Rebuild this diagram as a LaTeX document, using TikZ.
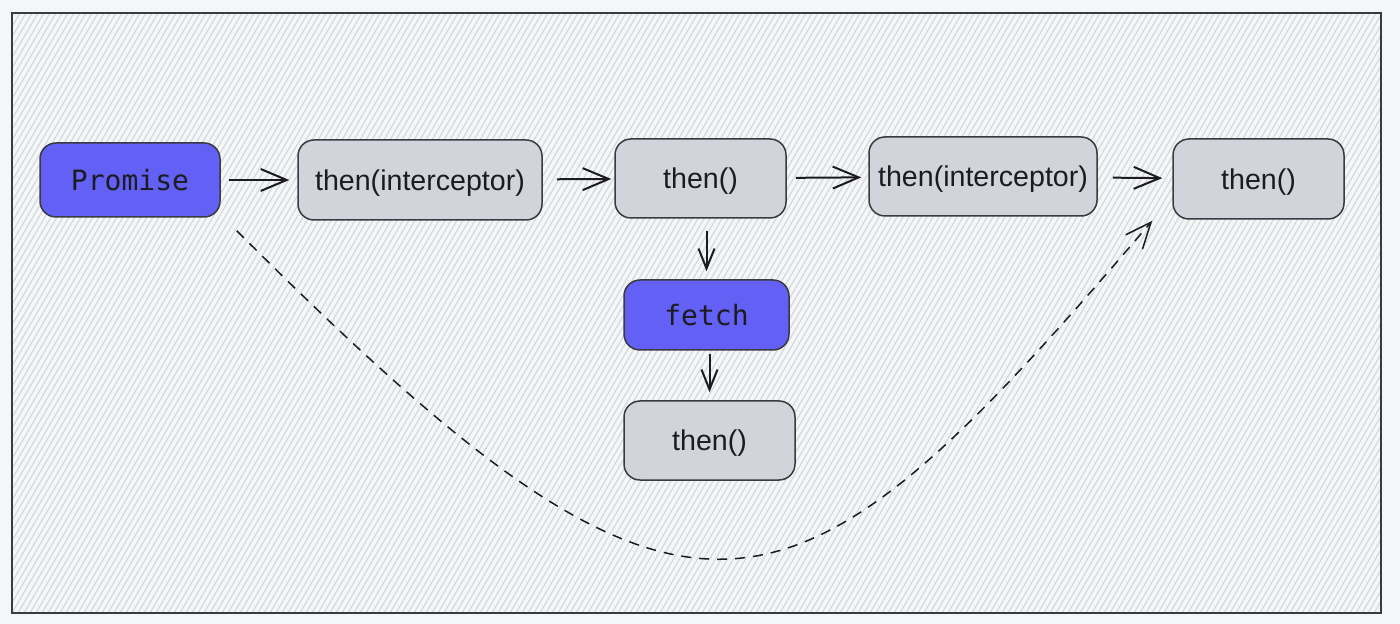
\documentclass[tikz,border=0pt]{standalone}
\usepackage{fontspec}
\setmainfont{Liberation Sans}
\newfontfamily\codefont{DejaVu Sans Mono}
\usetikzlibrary{arrows.meta}
\definecolor{promiseblue}{HTML}{6260F5}
\definecolor{thengray}{HTML}{D1D4DA}
\definecolor{edgegray}{HTML}{3A3A40}
\definecolor{paper}{HTML}{F4F7F9}
\definecolor{hatchbase}{HTML}{F4F6F8}
\definecolor{hatchline}{HTML}{D3D6DA}
\definecolor{ink}{HTML}{1C1C20}
\tikzset{
  box/.style={shape=rectangle,rounded corners=8pt,draw=edgegray,line width=0.75pt,inner sep=0pt,text depth=0pt,text=ink,font=\fontsize{14.3}{17}\selectfont},
  thenbox/.style={box,fill=thengray},
  codebox/.style={box,fill=promiseblue,font=\codefont\fontsize{14}{17}\selectfont},
  flow/.style={line width=1pt,draw=ink,-{Straight Barb[length=13pt,width=11pt]}},
  down/.style={line width=1pt,draw=ink,-{Straight Barb[length=10pt,width=8pt]}},
}

\begin{document}
\begin{tikzpicture}[x=0.5pt,y=-0.5pt]
\useasboundingbox (0,0) rectangle (1400,624);
\fill[paper] (0,0) rectangle (1400,624);
\fill[hatchbase] (12,13) rectangle (1381,613);
\begin{scope}
\clip (12,13) rectangle (1381,613);
\foreach \i in {-360,-354,...,1386}
  \draw[hatchline,line width=0.55pt] (\i,613) -- ++(350,-600);
\end{scope}
\draw[edgegray,line width=1pt] (12,13) rectangle (1381,613);

\node[codebox,minimum width=90pt,minimum height=37pt] (1) at (130,180) {Promise};
\node[thenbox,minimum width=122pt,minimum height=40pt] (2) at (420,180) {then(interceptor)};
\node[thenbox,minimum width=85.5pt,minimum height=39.5pt] (3) at (700.5,178.5) {then()};
\node[thenbox,minimum width=114pt,minimum height=39.5pt] (4) at (983,176.5) {then(interceptor)};
\node[thenbox,minimum width=85.5pt,minimum height=40pt] (5) at (1258.5,179) {then()};
\node[codebox,minimum width=82.5pt,minimum height=35pt] (6) at (706.5,315) {fetch};
\node[thenbox,minimum width=85.5pt,minimum height=39.5pt] (7) at (709.5,440.5) {then()};

\draw[flow,shorten <=4pt,shorten >=4pt] (1) -- (2);
\draw[flow,shorten <=7pt,shorten >=1.5pt] (2) -- (3);
\draw[flow,shorten <=4.5pt,shorten >=3.5pt] (3) -- (4);
\draw[flow,shorten <=7.5pt,shorten >=5pt] (4) -- (5);
\draw[down,shorten <=6pt,shorten >=4pt] (3.south -| 6.north) -- (6.north);
\draw[down,shorten <=1.5pt,shorten >=4pt] (6.south -| 7.north) -- (7.north);

\coordinate (s) at ([xshift=8pt,yshift=-6.5pt]1.south east);
\coordinate (e) at ([xshift=-10pt,yshift=-0.5pt]5.south west);
\draw[flow,dashed,dash pattern=on 5pt off 4pt,line width=0.75pt] (s) .. controls +(460,460) and +(-366,428) .. (e);
\end{tikzpicture}
\end{document}
